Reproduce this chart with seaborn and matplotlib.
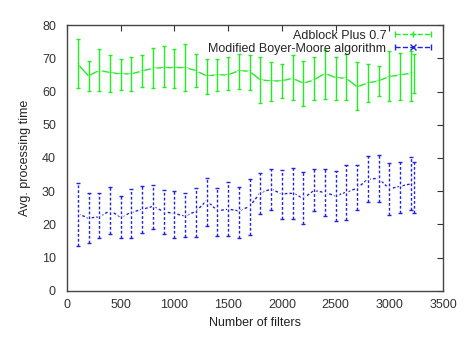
import numpy as np
import pandas as pd
import matplotlib
matplotlib.use("Agg")
import matplotlib.pyplot as plt
import seaborn as sns
from matplotlib.legend_handler import HandlerBase
from matplotlib.lines import Line2D

filters = [100, 200, 300, 400, 500, 600, 700, 800, 900, 1000, 1100, 1200, 1300, 1400,
           1500, 1600, 1700, 1800, 1900, 2000, 2100, 2200, 2300, 2400, 2500, 2600, 2700,
           2800, 2900, 3000, 3100, 3200, 3230]

abp_mean = [68.3, 64.7, 66.4, 65.7, 65.3, 65.3, 66.2, 67.0, 67.2, 67.2, 67.2, 66.3, 64.7,
            65.0, 65.0, 66.3, 66.1, 63.5, 63.2, 63.2, 64.0, 62.5, 63.5, 65.5, 64.2, 64.0,
            61.4, 62.6, 63.2, 64.5, 65.0, 65.5, 65.5]
abp_high = [75.7, 69.3, 72.9, 70.9, 69.7, 70.3, 71.0, 73.2, 73.7, 72.9, 74.4, 71.2, 69.9,
            69.7, 70.3, 71.3, 71.0, 70.3, 69.0, 68.2, 70.9, 69.2, 70.3, 72.5, 70.3, 71.3,
            69.0, 68.3, 67.8, 72.2, 71.7, 72.2, 71.3]
abp_low = [61.0, 60.2, 60.2, 59.9, 60.5, 60.2, 61.3, 61.0, 61.4, 61.0, 60.2, 61.3, 59.2,
           60.2, 60.5, 60.7, 60.5, 56.6, 57.2, 58.2, 57.4, 55.6, 57.4, 57.8, 57.6, 57.6,
           54.4, 56.9, 58.7, 57.1, 57.6, 57.1, 59.5]

bm_mean = [23.2, 21.9, 22.3, 24.1, 22.2, 23.6, 24.6, 25.4, 23.9, 23.2, 22.6, 23.9, 27.2,
           24.1, 24.6, 24.1, 25.4, 29.6, 30.6, 29.2, 29.4, 27.9, 30.2, 29.6, 28.6, 29.7,
           30.9, 33.6, 33.9, 30.7, 31.5, 32.2, 31.6]
bm_high = [32.4, 29.4, 29.4, 31.2, 28.7, 30.6, 31.6, 31.9, 30.4, 30.1, 29.4, 30.9, 33.9,
           30.9, 32.9, 31.4, 33.6, 35.4, 36.6, 36.4, 36.9, 35.7, 36.6, 36.6, 36.1, 37.9,
           37.9, 40.7, 40.9, 38.4, 38.9, 40.2, 38.9]
bm_low = [13.5, 14.3, 15.8, 17.1, 15.8, 16.0, 17.5, 18.6, 17.1, 15.8, 16.1, 16.3, 19.6,
          16.6, 16.6, 16.0, 16.8, 23.2, 24.4, 21.7, 21.6, 20.1, 23.9, 22.6, 21.1, 21.4,
          24.4, 26.7, 26.7, 22.9, 23.5, 24.2, 23.4]

series_labels = ["Adblock Plus 0.7", "Modified Boyer-Moore algorithm"]
x_ticks = [0, 500, 1000, 1500, 2000, 2500, 3000, 3500]
y_ticks = [0, 10, 20, 30, 40, 50, 60, 70, 80]

sns.set_style("white")
plt.rcParams['font.family'] = ['Liberation Sans', 'DejaVu Sans']

GREEN = "#22ee22"
BLUE = "#2222dd"
DASH = (0, (2, 1.5))
FS = 9

fig = plt.figure(figsize=(4.70, 3.39), dpi=100)
ax = fig.add_axes([0.1426, 0.142, 0.800, 0.784])

df_a = pd.DataFrame({"x": filters, "y": abp_mean})
df_b = pd.DataFrame({"x": filters, "y": bm_mean})

sns.lineplot(data=df_a, x="x", y="y", ax=ax, color=GREEN, lw=1.0,
             marker="+", markersize=4, markeredgewidth=1.0, legend=False)
sns.lineplot(data=df_b, x="x", y="y", ax=ax, color=BLUE, lw=1.0, linestyle=DASH,
             marker="x", markersize=4, markeredgewidth=1.0, legend=False)

a_err = [np.array(abp_mean) - np.array(abp_low), np.array(abp_high) - np.array(abp_mean)]
b_err = [np.array(bm_mean) - np.array(bm_low), np.array(bm_high) - np.array(bm_mean)]

ax.errorbar(filters, abp_mean, yerr=a_err, fmt="none", ecolor=GREEN,
            elinewidth=1.0, capsize=1.6, capthick=1.0)
eb_b = ax.errorbar(filters, bm_mean, yerr=b_err, fmt="none", ecolor=BLUE,
                   elinewidth=1.0, capsize=1.6, capthick=1.0)
eb_b[2][0].set_linestyle(DASH)

ax.set_xlim(0, 3500)
ax.set_ylim(0, 80)
ax.set_xticks(x_ticks)
ax.set_yticks(y_ticks)
ax.tick_params(direction="in", length=4, width=0.8, top=True, right=True,
               labelsize=FS, colors="#333333")
ax.tick_params(axis="y", pad=8)
ax.tick_params(axis="x", pad=6)
for s in ax.spines.values():
    s.set_color("#444444")
    s.set_linewidth(1.0)

ax.set_xlabel("Number of filters", fontsize=FS, color="#222222", labelpad=4)
ax.set_ylabel("Avg. processing time", fontsize=FS, color="#222222", labelpad=8)


class HandlerGnuplotErr(HandlerBase):
    def create_artists(self, legend, orig_handle, xdescent, ydescent, width, height,
                       fontsize, trans):
        y = height / 2.0 - ydescent
        x0, x1 = -xdescent, -xdescent + width
        line = Line2D([x0, x1], [y, y], color=orig_handle.get_color(),
                      ls=orig_handle.get_linestyle(), lw=1.0)
        caps = Line2D([x0, x1], [y, y], ls="none", marker="|", markersize=4,
                      color=orig_handle.get_color(), markeredgewidth=1.0)
        mark = Line2D([(x0 + x1) / 2], [y], ls="none", marker=orig_handle.get_marker(),
                      markersize=4, color=orig_handle.get_color(), markeredgewidth=1.0)
        for a in (line, caps, mark):
            a.set_transform(trans)
        return [line, caps, mark]


h_a = Line2D([], [], color=GREEN, lw=1.0, ls=DASH, marker="+")
h_b = Line2D([], [], color=BLUE, lw=1.0, ls=DASH, marker="x")
leg = ax.legend([h_a, h_b], series_labels, loc="upper right", frameon=False,
                bbox_to_anchor=(0.982, 1.002), borderaxespad=0.0,
                markerfirst=False, fontsize=FS, handlelength=2.9, handletextpad=0.7,
                borderpad=0.4, labelspacing=0.1,
                handler_map={Line2D: HandlerGnuplotErr()})

fig.savefig("out.png", dpi=100, facecolor="white")
